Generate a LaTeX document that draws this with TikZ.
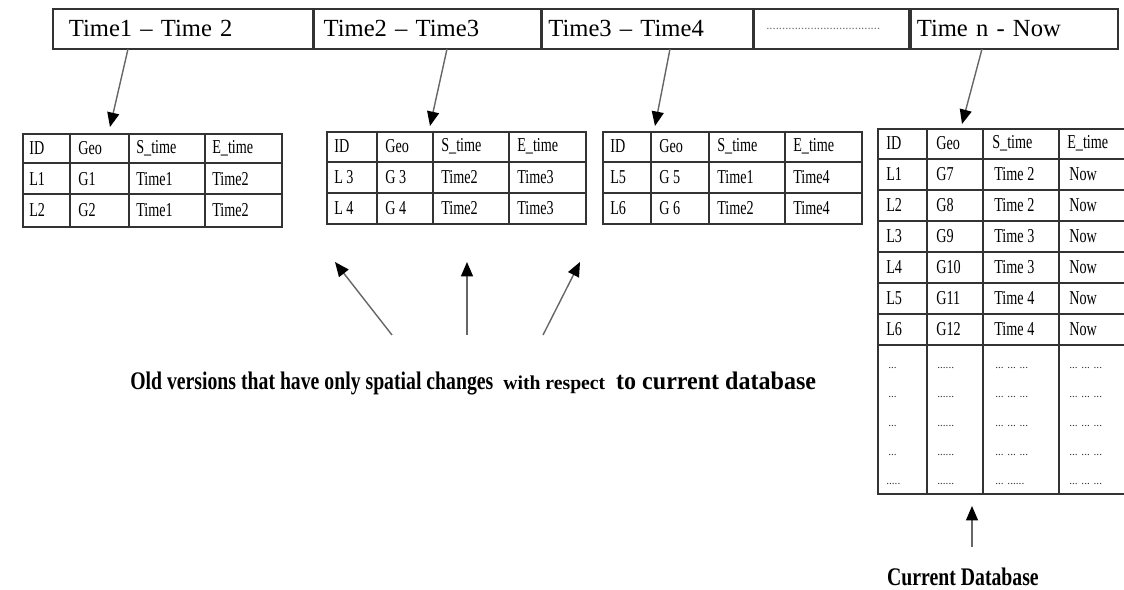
\documentclass[tikz,border=0pt]{standalone}
\usepackage{fontspec}
\setmainfont{Liberation Serif}
\newfontfamily\narrowfont[FakeStretch=0.72]{Liberation Serif}
\newfontfamily\capfont[FakeStretch=0.78]{Liberation Serif}
\newfontfamily\capwidefont[FakeStretch=0.95]{Liberation Serif}
\usetikzlibrary{arrows.meta}

\tikzset{
	barcell/.style={draw=black!80,line width=1.2pt,rectangle,anchor=north west,minimum height=1cm,inner xsep=0.4cm,align=left,font=\fontsize{17.5}{20}\selectfont},
	tbl/.style={draw=black!80,line width=1.2pt,rectangle,anchor=north west,inner sep=0pt},
	gridline/.style={draw=black!80,line width=1.2pt},
	cell/.style={anchor=west,inner sep=0pt,font=\narrowfont\fontsize{14}{16}\selectfont},
	dotcell/.style={anchor=west,inner sep=0pt,font=\fontsize{8}{9}\selectfont,text=black!80},
	arr/.style={draw=black!60,line width=1pt,-{Triangle[length=0.36cm,width=0.3cm,color=black]}},
	caplabel/.style={inner sep=0pt,font=\capfont\bfseries\fontsize{18}{20}\selectfont}
}

\begin{document}
\begin{tikzpicture}[x=0.025cm,y=-0.025cm]
	\useasboundingbox (0,0) rectangle (1124,590);
	
	% time line
	\node[barcell,minimum width=6.5cm,text width=5.7cm] (c1) at (52,8) {Time1 -- Time 2};
	\node[barcell,minimum width=5.65cm,text width=5.2cm,inner xsep=0.225cm] (c2) at (c1.north east) {Time2 -- Time3};
	\node[barcell,minimum width=5.25cm,text width=4.95cm,inner xsep=0.15cm] (c3) at (c2.north east) {Time3 -- Time4};
	\node[barcell,minimum width=3.875cm,text width=3.475cm,inner xsep=0.2cm,font=\fontsize{9}{10}\selectfont,text=black!55] (c4) at (c3.north east) {\,\,....................................};
	\node[barcell,minimum width=5.175cm,text width=4.875cm,inner xsep=0.15cm] (c5) at (c4.north east) {Time n - Now};
	
	% old version tables
	\node[tbl,minimum width=6.475cm,minimum height=2.325cm] (t1) at (22,133) {};
	\foreach \x in {70,129,205} \draw[gridline] (\x,133) -- (\x,226);
	\foreach \y in {163,194} \draw[gridline] (22,\y) -- (281,\y);
	\foreach \x/\a/\b/\c [count=\i] in {29/ID/L1/L2, 78/Geo/G1/G2, 136/S\_time/Time1/Time1, 212/E\_time/Time2/Time2}{
		\node[cell] (t1h\i) at (\x,148) {\a};
		\node[cell] (t1a\i) at (\x,179) {\b};
		\node[cell] (t1b\i) at (\x,210) {\c};
	}
	
	\node[tbl,minimum width=6.475cm,minimum height=2.3cm] (t2) at (326,131) {};
	\foreach \x in {377,433,509} \draw[gridline] (\x,131) -- (\x,223);
	\foreach \y in {162,193} \draw[gridline] (326,\y) -- (585,\y);
	\foreach \x/\a/\b/\c [count=\i] in {334/ID/L 3/L 4, 385/Geo/G 3/G 4, 441/S\_time/Time2/Time2, 517/E\_time/Time3/Time3}{
		\node[cell] (t2h\i) at (\x,146) {\a};
		\node[cell] (t2a\i) at (\x,177) {\b};
		\node[cell] (t2b\i) at (\x,208) {\c};
	}
	
	\node[tbl,minimum width=6.475cm,minimum height=2.3cm] (t3) at (602,131) {};
	\foreach \x in {651,709,785} \draw[gridline] (\x,131) -- (\x,223);
	\foreach \y in {162,193} \draw[gridline] (602,\y) -- (861,\y);
	\foreach \x/\a/\b/\c [count=\i] in {610/ID/L5/L6, 659/Geo/G 5/G 6, 717/S\_time/Time1/Time2, 793/E\_time/Time4/Time4}{
		\node[cell] (t3h\i) at (\x,146) {\a};
		\node[cell] (t3a\i) at (\x,177) {\b};
		\node[cell] (t3b\i) at (\x,208) {\c};
	}
	
	% current database
	\node[tbl,minimum width=6.45cm,minimum height=9.125cm] (t4) at (877,128) {};
	\foreach \x in {927,983,1059} \draw[gridline] (\x,128) -- (\x,493);
	\foreach \y in {159,190,221,252,283,314,345} \draw[gridline] (877,\y) -- (1135,\y);
	\foreach \x/\a [count=\i] in {886/ID, 936/Geo, 992/S\_time, 1067/E\_time}
		\node[cell] (t4h\i) at (\x,143) {\a};
	\foreach \l/\g/\s [count=\j] in {L1/G7/Time 2, L2/G8/Time 2, L3/G9/Time 3, L4/G10/Time 3, L5/G11/Time 4, L6/G12/Time 4}{
		\node[cell] (t4l\j) at (886,143+31*\j) {\l};
		\node[cell] (t4g\j) at (936,143+31*\j) {\g};
		\node[cell] (t4s\j) at (994,143+31*\j) {\s};
		\node[cell] (t4e\j) at (1069,143+31*\j) {Now};
	}
	\foreach \y [count=\j] in {368,397,426,455}{
		\node[dotcell] (t4x\j) at (888,\y) {...};
		\node[dotcell] (t4y\j) at (937,\y) {......};
		\node[dotcell] (t4z\j) at (995,\y) {... ... ...};
		\node[dotcell] (t4w\j) at (1069,\y) {... ... ...};
	}
	\node[dotcell] (t4x5) at (886,484) {.....};
	\node[dotcell] (t4y5) at (937,484) {......};
	\node[dotcell] (t4z5) at (995,484) {... ......};
	\node[dotcell] (t4w5) at (1069,484) {... ... ...};
	
	% arrows from time line
	\coordinate (s1) at (128,49);
	\coordinate (e1) at (110,127);
	\coordinate (s2) at (447,49);
	\coordinate (e2) at (430,126);
	\coordinate (s3) at (670,49);
	\coordinate (e3) at (655,126);
	\coordinate (s4) at (982,49);
	\coordinate (e4) at (962,124);
	\draw[arr] (s1) -- (e1);
	\draw[arr] (s2) -- (e2);
	\draw[arr] (s3) -- (e3);
	\draw[arr] (s4) -- (e4);
	
	% labels
	\node[caplabel,anchor=west] (old) at (130,384) {Old versions that have only spatial changes\hspace{0.25cm}{\normalfont\bfseries\fontsize{14}{18}\selectfont with respect}\hspace{0.15cm} {\capwidefont to current database}};
	\node[caplabel] (cur) at (963,577) {Current Database};
	
	\coordinate (o1) at (392,335);
	\coordinate (o2) at (467,335);
	\coordinate (o3) at (543,335);
	\coordinate (p1) at (335,262);
	\coordinate (p2) at (467,262);
	\coordinate (p3) at (580,262);
	\draw[arr] (o1) -- (p1);
	\draw[arr] (o2) -- (p2);
	\draw[arr] (o3) -- (p3);
	
	\coordinate (q1) at (972,547);
	\coordinate (q2) at (972,506);
	\draw[arr] (q1) -- (q2);
\end{tikzpicture}
\end{document}
